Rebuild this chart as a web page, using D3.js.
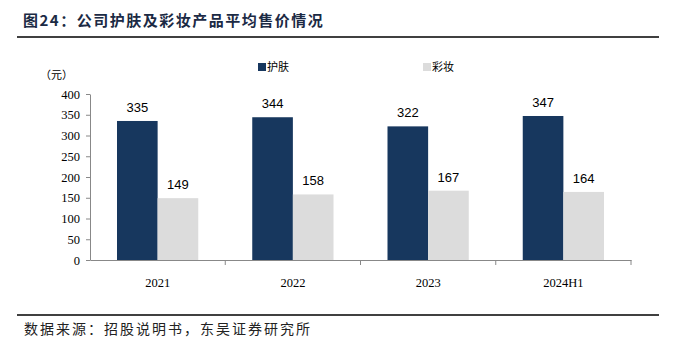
<!DOCTYPE html>
<html>
<head>
<meta charset="utf-8">
<script src="https://cdn.jsdelivr.net/npm/d3@7"></script>
<style>
  body { margin: 0; background: #fff; }
  svg { display: block; }
</style>
</head>
<body>
<div id="chart"></div>
<script>
// 数据
var categories = ['2021', '2022', '2023', '2024H1']
var skinCare = [335, 344, 322, 347]
var makeup = [149, 158, 167, 164]
var seriesNames = ['护肤', '彩妆']
var yTicks = [0, 50, 100, 150, 200, 250, 300, 350, 400]

var width = 676
var height = 353
var colors = ['#17375e', '#dcdcdc']
var serif = '"Liberation Serif", "Noto Sans CJK SC", serif'
var cjk = '"Noto Sans CJK SC", sans-serif'

var svg = d3.select('#chart').append('svg')
  .attr('width', width)
  .attr('height', height)

// 标题
svg.append('text')
  .attr('x', 23)
  .attr('y', 26)
  .attr('font-family', cjk)
  .attr('font-weight', 'bold')
  .attr('font-size', 15)
  .attr('letter-spacing', 1.5)
  .attr('fill', '#1b2a44')
  .text('图24：公司护肤及彩妆产品平均售价情况')

svg.append('line')
  .attr('x1', 17).attr('x2', 659)
  .attr('y1', 37).attr('y2', 37)
  .attr('stroke', '#000').attr('stroke-width', 1.5)

svg.append('line')
  .attr('x1', 17).attr('x2', 659)
  .attr('y1', 315).attr('y2', 315)
  .attr('stroke', '#000').attr('stroke-width', 1.5)

svg.append('text')
  .attr('x', 24)
  .attr('y', 334)
  .attr('font-family', cjk)
  .attr('font-size', 14)
  .attr('letter-spacing', 2)
  .attr('fill', '#222')
  .text('数据来源：招股说明书，东吴证券研究所')

var margin = {top: 94, left: 90, right: 45, bottom: 93}
var x = d3.scaleBand().domain(categories).range([margin.left, width - margin.right])
var y = d3.scaleLinear().domain([0, 400]).range([height - margin.bottom, margin.top])
var inner = d3.scaleBand().domain([0, 1]).range([27, x.bandwidth() - 27])

// y 轴
var yAxis = d3.axisLeft(y).tickValues(yTicks).tickSize(4).tickSizeOuter(0)
var gy = svg.append('g')
  .attr('transform', 'translate(' + margin.left + ',0)')
  .call(yAxis)
gy.select('.domain').attr('stroke', '#888')
gy.selectAll('.tick line').attr('stroke', '#888')
gy.selectAll('.tick text')
  .attr('font-family', serif)
  .attr('font-size', 12.5)
  .attr('fill', '#000')
  .attr('x', -10)

svg.append('text')
  .attr('x', 40)
  .attr('y', 79)
  .attr('font-family', cjk)
  .attr('font-size', 11)
  .attr('fill', '#000')
  .text('（元）')

// x 轴
var xAxis = d3.axisBottom(x).tickSize(0)
var gx = svg.append('g')
  .attr('transform', 'translate(0,' + y(0) + ')')
  .call(xAxis)
gx.select('.domain').attr('stroke', '#888')
gx.selectAll('.tick text')
  .attr('font-family', serif)
  .attr('font-size', 12.5)
  .attr('fill', '#000')
  .attr('dy', '1.9em')
// 分隔刻度
gx.selectAll('.sep')
  .data(categories)
  .enter()
  .append('line')
  .attr('class', 'sep')
  .attr('x1', d => x(d) + x.bandwidth())
  .attr('x2', d => x(d) + x.bandwidth())
  .attr('y1', 0).attr('y2', 5)
  .attr('stroke', '#888')

// 柱子
var series = [skinCare, makeup]
series.forEach(function (vals, si) {
  var g = svg.append('g')
  g.selectAll('rect')
    .data(vals)
    .enter()
    .append('rect')
    .attr('x', (d, i) => x(categories[i]) + inner(si))
    .attr('y', d => y(d))
    .attr('width', inner.bandwidth())
    .attr('height', d => y(0) - y(d))
    .attr('fill', colors[si])
  g.selectAll('text')
    .data(vals)
    .enter()
    .append('text')
    .attr('x', (d, i) => x(categories[i]) + inner(si) + inner.bandwidth() / 2)
    .attr('y', d => y(d) - 9)
    .attr('text-anchor', 'middle')
    .attr('font-family', '"Liberation Sans", Arial, sans-serif')
    .attr('font-size', 13)
    .attr('fill', '#000')
    .text(d => d)
})

// 图例
var legendX = [258, 423]
seriesNames.forEach(function (name, i) {
  svg.append('rect')
    .attr('x', legendX[i])
    .attr('y', 63)
    .attr('width', 8)
    .attr('height', 8)
    .attr('fill', colors[i])
  svg.append('text')
    .attr('x', legendX[i] + 9)
    .attr('y', 71)
    .attr('font-family', cjk)
    .attr('font-size', 11)
    .attr('fill', '#000')
    .text(name)
})
</script>
</body>
</html>
